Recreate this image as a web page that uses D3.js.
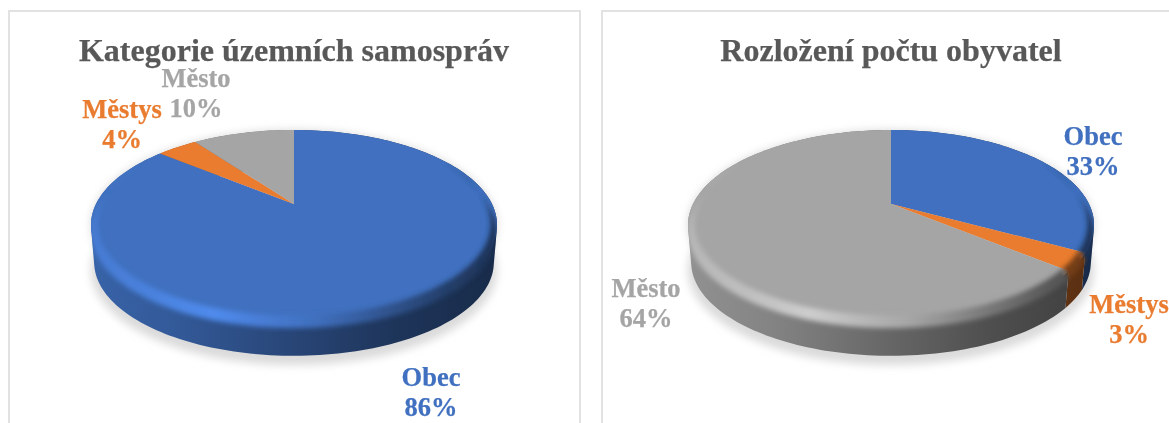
<!DOCTYPE html>
<html><head><meta charset="utf-8">
<script src="https://cdn.jsdelivr.net/npm/d3@7"></script>
<style>
html,body{margin:0;padding:0;background:#fff;overflow:hidden}
text{font-family:"Liberation Serif",serif;font-weight:700;text-anchor:middle;filter:url(#soft);stroke-width:.25px}
</style></head><body><div id="c"></div>
<script>
const categories = ["Obec", "Městys", "Město"];
const colors = ["#4070BF", "#E97B2F", "#A5A5A5"];
const territoryValues = [86, 4, 10];
const populationValues = [33, 3, 64];
const chartTitles = ["Kategorie územních samospráv", "Rozložení počtu obyvatel"];

const W = 1169, H = 423;
const panels = [
 {x:9, w:571, cx:294, title:chartTitles[0], values:territoryValues,
  labels:[[137,182],[-172,-86],[-98,-117]]},
 {x:602, w:600, cx:891, title:chartTitles[1], values:populationValues,
  labels:[[202,-59],[238,109],[-245,93]]}
];
const cy = 204, depth = 38, k = 0.221;
const scaleU = d3.scaleLinear().domain([-1,1]).range([-198,198]);
const scaleV = d3.scaleLinear().domain([-1,1]).range([-90.4,90.4]);

const svg = d3.select("#c").append("svg").attr("width",W).attr("height",H).style("display","block");
const defs = svg.append("defs");
const blur = (id,s)=>defs.append("filter").attr("id",id)
  .attr("x","-20%").attr("y","-20%").attr("width","140%").attr("height","140%")
  .append("feGaussianBlur").attr("stdDeviation",s);
blur("soft",0.45); blur("shadow",4); blur("rim",2.6); blur("edge",0.5);

function mix(c,f){ const r=d3.rgb(c); return d3.rgb(Math.min(255,r.r*f),Math.min(255,r.g*f),Math.min(255,r.b*f)).formatHex(); }
function project(cx,a,scale=1,dy=0){
  const u=Math.sin(a)*scale, v=-Math.cos(a)*scale, d=1-k*v;
  return [cx+scaleU(u)/d, cy+dy+scaleV(v)/d];
}
function samples(a0,a1){ const n=Math.max(2,Math.ceil((a1-a0)*40));
  return d3.range(n+1).map(i=>a0+(a1-a0)*i/n); }
const line=d3.line();
const taper=a=>{ const t=Math.max(0,Math.min(1,(-Math.cos(a)+0.6)/0.6)); return t*t*(3-2*t); };
// the side wall as one path of short pieces, all wound the same way so their union has no seams
function wallPath(cx,angles){
  return d3.pairs(angles).map(([a,b])=>{
    const q=[project(cx,a),project(cx,b),project(cx,b,.985,depth),project(cx,a,.985,depth)];
    if(d3.polygonArea(q)<0) q.reverse();
    return line(q)+"Z";
  }).join("");
}

panels.forEach((p,pi)=>{
  svg.append("path").attr("d",`M${p.x},${H+4}V11H${p.x+p.w}V${H+4}`)
    .attr("fill","#fff").attr("stroke","#E2E2E2").attr("stroke-width",2);

  const x0=p.cx-203, x1=p.cx+203;
  categories.forEach((c,i)=>{
    const wall=defs.append("linearGradient").attr("id",`wall${pi}${i}`)
      .attr("gradientUnits","userSpaceOnUse").attr("x1",x0).attr("x2",x1).attr("y1",0).attr("y2",0);
    [[0,.88],[.2,.8],[.5,.62],[.75,.47],[1,.38]].forEach(([o,f])=>wall.append("stop").attr("offset",o).attr("stop-color",mix(colors[i],f)));
    const rim=defs.append("linearGradient").attr("id",`rim${pi}${i}`)
      .attr("gradientUnits","userSpaceOnUse").attr("x1",x0).attr("x2",x1).attr("y1",0).attr("y2",0);
    [[0,1.1],[.15,1.16],[.3,1.24],[.42,1.12],[.55,1.0],[.72,.76],[.88,.55],[1,.45]].forEach(([o,f])=>rim.append("stop").attr("offset",o).attr("stop-color",mix(colors[i],f)));
  });

  const pie=d3.pie().sort(null)(p.values);
  const g=svg.append("g");
  const all=samples(0,2*Math.PI);

  // ground shadow
  const shadow=g.append("g").attr("filter","url(#shadow)");
  [0,depth+7].forEach(dy=>shadow.append("path").attr("d",line(all.map(a=>project(p.cx,a,1,dy)))+"Z").attr("fill","#DADADA"));

  // side walls
  pie.forEach((s,i)=>{
    g.append("path").attr("d",wallPath(p.cx,samples(s.startAngle,s.endAngle))).attr("fill",`url(#wall${pi}${i})`);
  });

  // top surfaces
  pie.forEach((s,i)=>{
    const pts=[[p.cx,cy]].concat(samples(s.startAngle,s.endAngle).map(a=>project(p.cx,a)));
    g.append("path").attr("d",line(pts)+"Z").attr("fill",colors[i]).attr("filter","url(#edge)");
  });

  // bevel: a soft band that runs along the front of the rim and tapers out at the back
  const clipId=`clip${pi}`;
  const clip=defs.append("clipPath").attr("id",clipId);
  clip.append("path").attr("d",line(all.map(a=>project(p.cx,a)))+"Z");
  clip.append("path").attr("d",wallPath(p.cx,all));
  const frontFrom=Math.PI/3, frontTo=Math.PI*5/3;
  pie.forEach((s,i)=>{
    const a0=Math.max(s.startAngle,frontFrom), a1=Math.min(s.endAngle,frontTo);
    if(a1<=a0) return;
    const arc=samples(a0,a1);
    const band=arc.map(a=>project(p.cx,a,1-0.03*taper(a),0))
      .concat(arc.slice().reverse().map(a=>project(p.cx,a,1,8*taper(a))));
    g.append("g").attr("clip-path",`url(#${clipId})`).append("path")
      .attr("d",line(band)+"Z").attr("fill",`url(#rim${pi}${i})`).attr("filter","url(#rim)");
  });

  // title
  svg.append("text").attr("x",p.cx).attr("y",61).attr("fill","#595959")
    .attr("stroke","#595959").attr("font-size",32).text(p.title);

  // data labels
  categories.forEach((c,i)=>{
    const [dx,dy]=p.labels[i];
    svg.append("text").attr("x",p.cx+dx).attr("y",cy+dy).attr("fill",colors[i]).attr("stroke",colors[i]).attr("font-size",26.5).text(c);
    svg.append("text").attr("x",p.cx+dx).attr("y",cy+dy+30).attr("fill",colors[i]).attr("stroke",colors[i]).attr("font-size",26.5).text(p.values[i]+"%");
  });
});
</script></body></html>
